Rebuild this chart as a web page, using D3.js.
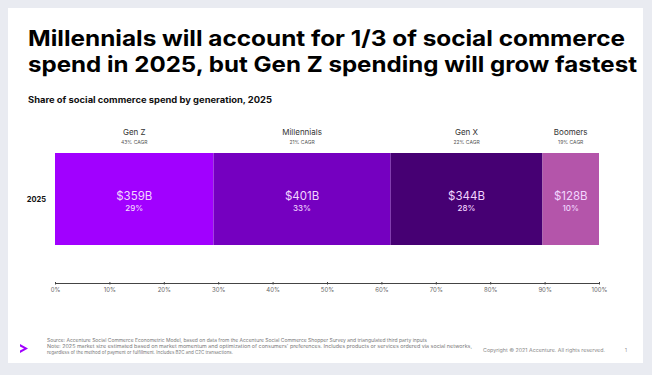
<!DOCTYPE html>
<html>
<head>
<meta charset="utf-8">
<script src="https://cdn.jsdelivr.net/npm/d3@7"></script>
<style>
  html, body { margin: 0; padding: 0; background: #e9ebf1; }
  svg { display: block; font-family: Inter, Roboto, "Noto Sans", sans-serif; }
</style>
</head>
<body>
<div id="chart"></div>
<script>
// data
var generations = ["Gen Z", "Millennials", "Gen X", "Boomers"];
var spend = [359, 401, 344, 128];          // $B in 2025
var shareLabels = ["29%", "33%", "28%", "10%"];
var cagr = ["43% CAGR", "21% CAGR", "22% CAGR", "19% CAGR"];
var barColors = ["#a100ff", "#7500c0", "#460073", "#b455aa"];
var yearLabel = "2025";
var tickValues = [0, 0.1, 0.2, 0.3, 0.4, 0.5, 0.6, 0.7, 0.8, 0.9, 1];

var width = 652, height = 375;

var svg = d3.select("#chart").append("svg")
    .attr("width", width)
    .attr("height", height);

// white card
svg.append("rect")
    .attr("x", 8).attr("y", 8)
    .attr("width", 635).attr("height", 355)
    .attr("fill", "#ffffff");

// title, two lines
var titleLines = ["Millennials will account for 1/3 of social commerce",
                  "spend in 2025, but Gen Z spending will grow fastest"];
var titleWidths = [597, 609];
svg.append("g").selectAll("text")
    .data(titleLines)
    .enter().append("text")
    .attr("x", 28)
    .attr("y", (d, i) => 46 + i * 26)
    .attr("font-size", 21.5)
    .attr("font-weight", 700)
    .attr("fill", "#000")
    .attr("textLength", (d, i) => titleWidths[i])
    .attr("lengthAdjust", "spacingAndGlyphs")
    .text(d => d);

svg.append("text")
    .attr("x", 28).attr("y", 103)
    .attr("font-size", 8.4)
    .attr("font-weight", 700)
    .attr("fill", "#111")
    .attr("textLength", 244).attr("lengthAdjust", "spacingAndGlyphs")
    .text("Share of social commerce spend by generation, 2025");

// stacked bar
var total = d3.sum(spend);
var stack = [];
var acc = 0;
spend.forEach(function (v, i) {
    stack.push({ name: generations[i], value: v, x0: acc / total, x1: (acc + v) / total, i: i });
    acc += v;
});

var x = d3.scaleLinear().domain([0, 1]).range([55, 599]);
var y = d3.scaleBand().domain([yearLabel]).range([153, 245]).padding(0);

var seg = svg.append("g").selectAll("g")
    .data(stack)
    .enter().append("g");

seg.append("rect")
    .attr("x", d => x(d.x0))
    .attr("y", y(yearLabel))
    .attr("width", d => x(d.x1) - x(d.x0))
    .attr("height", y.bandwidth())
    .attr("fill", d => barColors[d.i]);

seg.append("text")
    .attr("x", d => (x(d.x0) + x(d.x1)) / 2)
    .attr("y", y(yearLabel) + y.bandwidth() / 2 + 0.5)
    .attr("text-anchor", "middle")
    .attr("font-size", 11.5)
    .attr("fill", "#f2d6ff")
    .text(d => "$" + d.value + "B");

seg.append("text")
    .attr("x", d => (x(d.x0) + x(d.x1)) / 2)
    .attr("y", y(yearLabel) + y.bandwidth() / 2 + 12)
    .attr("text-anchor", "middle")
    .attr("font-size", 8)
    .attr("font-weight", 500)
    .attr("fill", "#f2d6ff")
    .text(d => shareLabels[d.i]);

// generation names above
seg.append("text")
    .attr("x", d => (x(d.x0) + x(d.x1)) / 2)
    .attr("y", 135)
    .attr("text-anchor", "middle")
    .attr("font-size", 8)
    .attr("fill", "#333")
    .text(d => d.name);

seg.append("text")
    .attr("x", d => (x(d.x0) + x(d.x1)) / 2)
    .attr("y", 144)
    .attr("text-anchor", "middle")
    .attr("font-size", 5)
    .attr("fill", "#555")
    .text(d => cagr[d.i]);

// year label
svg.append("text")
    .attr("x", 46)
    .attr("y", y(yearLabel) + y.bandwidth() / 2 + 3)
    .attr("text-anchor", "end")
    .attr("font-size", 7.5)
    .attr("font-weight", 700)
    .attr("fill", "#111")
    .text(yearLabel);

// axis
var axis = svg.append("g")
    .attr("transform", "translate(0,283)")
    .call(d3.axisBottom(x)
        .tickValues(tickValues)
        .tickFormat(d3.format(".0%"))
        .tickSize(2)
        .tickSizeOuter(0));
axis.select(".domain").attr("stroke", "#444").attr("stroke-width", 1);
axis.selectAll(".tick line").attr("stroke", "#444").attr("y1", -1).attr("y2", 1.5);
axis.selectAll(".tick text")
    .attr("font-size", 6)
    .attr("font-family", "Inter, Roboto, sans-serif")
    .attr("fill", "#666")
    .attr("dy", "0.71em")
    .attr("y", 5);

// footer
svg.append("path")
    .attr("d", "M20,344 L28,348.5 L20,353 L20,350.5 L24,348.5 L20,346.5 Z")
    .attr("fill", "#a100ff");

var notes = [
    "Source: Accenture Social Commerce Econometric Model, based on data from the Accenture Social Commerce Shopper Survey and triangulated third party inputs",
    "Note: 2025 market size estimated based on market momentum and optimization of consumers' preferences. Includes products or services ordered via social networks,",
    "regardless of the method of payment or fulfillment. Includes B2C and C2C transactions."
];
var noteWidths = [380, 425, 186];
svg.append("g").selectAll("text")
    .data(notes)
    .enter().append("text")
    .attr("x", 47)
    .attr("y", (d, i) => 342 + i * 5.8)
    .attr("font-size", 4.6)
    .attr("fill", "#777")
    .attr("textLength", (d, i) => noteWidths[i])
    .attr("lengthAdjust", "spacingAndGlyphs")
    .text(d => d);

svg.append("text")
    .attr("x", 483).attr("y", 352)
    .attr("font-size", 4.6)
    .attr("fill", "#888")
    .attr("textLength", 122).attr("lengthAdjust", "spacingAndGlyphs")
    .text("Copyright \u00a9 2021 Accenture. All rights reserved.");

svg.append("text")
    .attr("x", 625).attr("y", 352)
    .attr("font-size", 4.6)
    .attr("fill", "#888")
    .text("1");
</script>
</body>
</html>
